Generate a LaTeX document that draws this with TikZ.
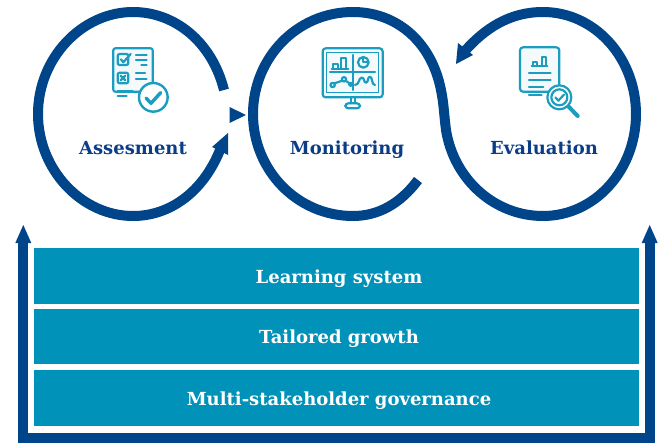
\documentclass[tikz,border=0pt]{standalone}
\usepackage{fontspec}
\setmainfont{DejaVu Serif}
\definecolor{navy}{HTML}{004489}
\definecolor{bar}{HTML}{0092B9}
\definecolor{ico}{HTML}{1A9DBF}
\definecolor{icofill}{HTML}{F4FAFC}
\definecolor{tnavy}{HTML}{0A3D85}
\tikzset{
 ring/.style={draw=navy,line width=10pt,line cap=butt},
 tip/.style={fill=navy,draw=none},
 band/.style={fill=bar,draw=none,minimum width=605.5pt,minimum height=55.5pt,inner sep=0pt},
 bandtext/.style={text=white,anchor=base,inner sep=0pt,font=\bfseries\fontsize{18pt}{20pt}\selectfont},
 title/.style={text=tnavy,anchor=base,font=\bfseries\fontsize{18pt}{20pt}\selectfont,inner sep=0pt},
 iconl/.style={draw=ico,line width=1.5pt,line cap=round,line join=round},
 iconk/.style={draw=ico,line width=2.2pt,line cap=round,line join=round},
}
\begin{document}
\begin{tikzpicture}[x=1pt,y=-1pt]
\useasboundingbox (0,0) rectangle (667,444);
% left loop
\draw[ring] (224,90) .. controls (212,42) and (175,12) .. (133,12)
  .. controls (82,12) and (38,58) .. (38,114)
  .. controls (38,170) and (82,216) .. (133,216)
  .. controls (170,216) and (203,192) .. (220,150);
\fill[tip] (228,133) -- (212,147) -- (228,155) -- cycle;
\fill[tip] (229.5,107) -- (246,115) -- (229.5,123) -- cycle;
% middle + right S loop
\draw[ring] (418,180) .. controls (400,204) and (378,216) .. (353,216)
  .. controls (297,216) and (253,170) .. (253,114)
  .. controls (253,58) and (297,12) .. (353,12)
  .. controls (395,12) and (431,40) .. (441,90)
  .. controls (444,105) and (444,115) .. (446,130)
  .. controls (454,180) and (495,216) .. (543,216)
  .. controls (595,216) and (636,170) .. (636,114)
  .. controls (636,58) and (595,12) .. (543,12)
  .. controls (510,12) and (485,28) .. (464,52);
\fill[tip] (456,64) -- (458,43) -- (473,55) -- cycle;
% bands
\node[band] (b1) at (336.3,276) {};
\node[band] (b2) at (336.3,336.5) {};
\node[band] (b3) at (336.3,398) {};
\node[bandtext] (l1) at (339,283.5) {Learning system};
\node[bandtext] (l2) at (339,343.5) {Tailored growth};
\node[bandtext] (l3) at (339,405) {Multi-stakeholder governance};
% base arrows
\draw[navy,line width=10pt,line cap=butt,line join=miter] (23.3,240) -- (23.3,437.5) -- (649.7,437.5) -- (649.7,240);
\fill[tip] (23.3,225) -- (31.3,243) -- (15.3,243) -- cycle;
\fill[tip] (649.7,225) -- (657.7,243) -- (641.7,243) -- cycle;
% titles
\node[title] (t1) at (133,154) {Assesment};
\node[title] (t2) at (347,154) {Monitoring};
\node[title] (t3) at (544,154) {Evaluation};
% icon 1
\begin{scope}[shift={(100,40)},x=.3333pt,y=-.3333pt]
\draw[iconk,fill=icofill,rounded corners=2pt] (40,25) rectangle (158,155);
\draw[iconk,rounded corners=2pt] (53,42) rectangle (85,75);
\draw[iconk,rounded corners=2pt] (53,98) rectangle (85,130);
\draw[iconk] (63,58) -- (70,67) -- (92,42);
\draw[iconk] (62,107) -- (76,121) (76,107) -- (62,121);
\draw[iconk] (108,45) -- (140,45) (108,60) -- (140,60) (124,76) -- (140,76);
\draw[iconk] (108,100) -- (135,100) (108,117) -- (140,117);
\draw[iconk] (53,152) -- (98,152) (53,168) -- (80,168);
\draw[iconk,fill=white,line width=2.4pt] (160,172) circle[radius=43];
\draw[draw=ico,line width=3.4pt,line cap=round,line join=round] (138,174) -- (153,190) -- (182,158);
\end{scope}
% icon 2
\begin{scope}[shift={(310,40)},x=.3333pt,y=-.3333pt]
\draw[iconk,fill=icofill,rounded corners=3pt] (38,25) rectangle (218,172);
\draw[iconl] (50,38) rectangle (205,158);
\draw[iconk] (128,45) -- (128,150) (60,97) -- (195,97);
\draw[iconk] (65,87) -- (115,87) (70,85) -- (70,72) -- (85,72) -- (85,85) (93,85) -- (93,55) -- (108,55) -- (108,85);
\draw[iconk] (160,67) circle[radius=16];
\draw[iconk] (160,52) -- (160,67) -- (175,67);
\draw[iconk] (68,135) circle[radius=6.5] (102,118) circle[radius=6.5] (122,133) circle[radius=5];
\draw[iconk] (73,130) -- (97,122) (107,122) -- (118,130);
\draw[iconk] (135,135) .. controls (148,135) and (146,113) .. (155,113) .. controls (165,113) and (160,128) .. (168,128) .. controls (176,128) and (172,110) .. (180,110) .. controls (188,110) and (184,135) .. (195,135);
\draw[iconk] (122,172) -- (122,190) (136,172) -- (136,190);
\draw[iconk,rounded corners=3pt] (106,190) rectangle (150,205);
\end{scope}
% icon 3
\begin{scope}[shift={(510,40)},x=.3333pt,y=-.3333pt]
\draw[iconk,fill=icofill,rounded corners=3pt] (30,22) rectangle (148,155);
\draw[iconk] (65,78) -- (112,78) (68,78) -- (68,66) -- (80,66) -- (80,78) (95,78) -- (95,52) -- (108,52) -- (108,78);
\draw[iconk] (57,98) -- (122,98) (57,120) -- (122,120) (57,142) -- (100,142) (57,165) -- (95,165);
\draw[draw=ico,line width=4pt,line cap=round] (176,200) -- (203,228);
\draw[iconk,fill=white] (148,172) circle[radius=36];
\draw[iconk] (148,172) circle[radius=24];
\draw[iconk] (136,172) -- (145,182) -- (162,164);
\end{scope}
\end{tikzpicture}
\end{document}
